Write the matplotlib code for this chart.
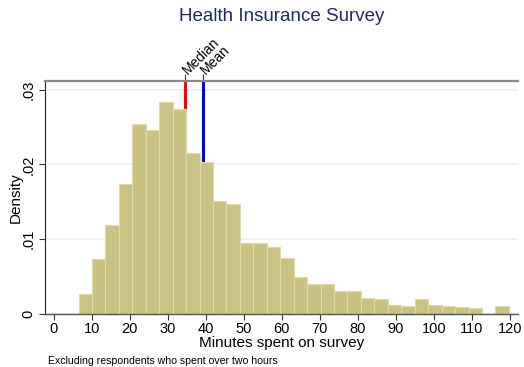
import numpy as np
import matplotlib
matplotlib.use("Agg")
import matplotlib.pyplot as plt

plt.rcParams['font.family'] = ['Liberation Sans', 'DejaVu Sans']

# Histogram of minutes spent (density per bin), 32 bins
bin_start = 6.5
bin_width = 3.5375
densities = [0.00268, 0.00732, 0.01187, 0.0174, 0.0254, 0.02463, 0.02834, 0.02745,
             0.02147, 0.02027, 0.01509, 0.01478, 0.00946, 0.00946, 0.00893, 0.00746,
             0.00495, 0.00402, 0.00402, 0.00308, 0.00308, 0.00214, 0.00201, 0.00126,
             0.00103, 0.00201, 0.0012, 0.00107, 0.00094, 0.0008, 0.0, 0.00107]
median_val = 34.55
mean_val = 39.3
x_ticks = list(range(0, 121, 10))
y_ticks = [0, 0.01, 0.02, 0.03]
y_labels = ["0", ".01", ".02", ".03"]

fig = plt.figure(figsize=(5.24, 3.67), dpi=100)
ax = fig.add_axes([0.0868, 0.1444, 0.9017, 0.6356])

# mean / median lines (behind the bars)
ax.axvline(median_val, color="red", lw=2.2, zorder=1)
ax.axvline(mean_val, color="blue", lw=2.2, zorder=1)

lefts = bin_start + bin_width * np.arange(len(densities))
ax.bar(lefts, densities, width=bin_width, align="edge",
       color="#c9c283", edgecolor="#dedaa9", linewidth=0.8, zorder=2)

ax.set_xlim(-2.2, 122.1)
ax.set_ylim(0, 0.0312)
ax.set_xticks(x_ticks)
ax.set_yticks(y_ticks)
ax.set_yticklabels(y_labels, rotation=90, va="center")
ax.tick_params(axis="both", labelsize=10.5, length=4, color="#333333")
ax.tick_params(axis="x", pad=2)
ax.tick_params(axis="y", pad=3)
ax.grid(axis="y", color="#e9f1f2", lw=1.2, zorder=0)
ax.set_axisbelow(True)

ax.spines["right"].set_visible(False)
ax.spines["left"].set_color("#222222")
ax.spines["left"].set_linewidth(0.8)
ax.spines["bottom"].set_color("#555555")
ax.spines["bottom"].set_linewidth(1.0)
ax.spines["top"].set_color("#8a8a8a")
ax.spines["top"].set_linewidth(1.6)

ax.set_xlabel("Minutes spent on survey", fontsize=11, labelpad=0)
ax.set_ylabel("Density", fontsize=11, labelpad=-1)

# top axis with Median / Mean markers
top = ax.secondary_xaxis("top")
top.set_xticks([median_val, mean_val])
top.set_xticklabels(["Median", "Mean"], rotation=45, ha="left", va="center",
                    rotation_mode="anchor", fontsize=10)
top.tick_params(length=5, color="#333333", pad=1)
top.spines["top"].set_visible(False)

fig.suptitle("Health Insurance Survey", x=0.537, y=0.978, va="top",
             fontsize=13.5, color="#1e2d5c")
fig.text(0.092, 0.008, "Excluding respondents who spent over two hours",
         fontsize=7.6, color="black")

fig.savefig("out.png", dpi=100)
